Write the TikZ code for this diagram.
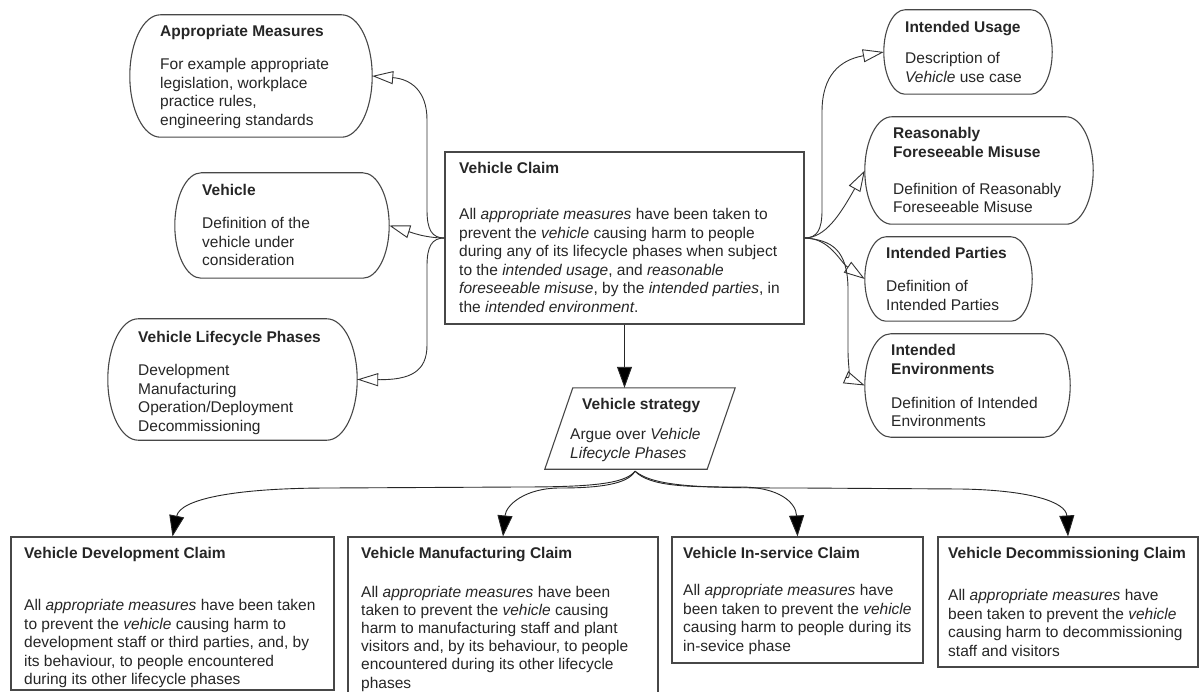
\documentclass[tikz,border=0pt]{standalone}
\usepackage{fontspec}
\setmainfont{Liberation Sans}
\usetikzlibrary{arrows.meta,calc}

% Context element outline: straight top/bottom, half-ellipse ends
\newcommand\ctxoutline[1]{%
  \path[gsnline] let \p1=(#1.north west), \p2=(#1.south east),
       \n1={(\y1-\y2)/2}, \n2={(\y1-\y2)/4} in
    (\x1+\n2,\y1) -- (\x2-\n2,\y1)
    arc[start angle=90, end angle=-90, x radius={\n2*1pt}, y radius={\n1*1pt}]
    -- (\x1+\n2,\y2)
    arc[start angle=270, end angle=90, x radius={\n2*1pt}, y radius={\n1*1pt}]
    -- cycle;}
% Text block: first baseline is the node's base
\newcommand\gsntext[1]{\parbox[t]{420pt}{\raggedright #1}}

\begin{document}
\begin{tikzpicture}[x=1pt, y=-1pt,
  gsnline/.style={draw=black!72, line width=1.1pt},
  claim/.style={gsnline, rectangle, inner sep=0pt},
  ctxbox/.style={rectangle, inner sep=0pt},
  stratbox/.style={rectangle, inner sep=0pt},
  txt/.style={anchor=base west, inner sep=0pt,
    font=\fontsize{15.5}{18.6}\selectfont, text=black!85},
  ctxarrow/.style={draw=black!80, line width=0.9pt,
    -{Triangle[open, length=21pt, width=13pt]}},
  solidarrow/.style={draw=black!85, line width=0.9pt,
    -{Triangle[length=21pt, width=15pt, fill=black]}}]

\path[fill=white, use as bounding box] (0,0) rectangle (1204,692);

% ---------- central claim ----------
\node[claim, minimum width=359pt, minimum height=172pt] (vc) at (624.5,238) {};
\node[txt] (vc-text) at (459,173.5) {\gsntext{\textbf{Vehicle Claim}\\[27.4pt]
All \emph{appropriate measures} have been taken to\\
prevent the \emph{vehicle} causing harm to people\\
during any of its lifecycle phases when subject\\
to the \emph{intended usage}, and \emph{reasonable}\\
\emph{foreseeable misuse}, by the \emph{intended parties}, in\\
the \emph{intended environment}.}};

% ---------- context elements, left ----------
\node[ctxbox, minimum width=242pt, minimum height=122pt] (am) at (251,76) {};
\ctxoutline{am}
\node[txt] (am-text) at (160,36.5) {\gsntext{\textbf{Appropriate Measures}\\[14.4pt]
For example appropriate\\ legislation, workplace\\ practice rules,\\ engineering standards}};

\node[ctxbox, minimum width=214pt, minimum height=105pt] (veh) at (282,225.5) {};
\ctxoutline{veh}
\node[txt] (veh-text) at (202,195.5) {\gsntext{\textbf{Vehicle}\\[14.4pt]
Definition of the\\ vehicle under\\ consideration}};

\node[ctxbox, minimum width=249pt, minimum height=121pt] (vlp) at (232.5,379.5) {};
\ctxoutline{vlp}
\node[txt] (vlp-text) at (138,342.5) {\gsntext{\textbf{Vehicle Lifecycle Phases}\\[14.4pt]
Development\\ Manufacturing\\ Operation/Deployment\\ Decommissioning}};

% ---------- context elements, right ----------
\node[ctxbox, minimum width=168pt, minimum height=84pt] (iu) at (968,52) {};
\ctxoutline{iu}
\node[txt] (iu-text) at (905,32.5) {\gsntext{\textbf{Intended Usage}\\[12.4pt]
Description of\\ \emph{Vehicle} use case}};

\node[ctxbox, minimum width=228pt, minimum height=107pt] (rfm) at (979,170.5) {};
\ctxoutline{rfm}
\node[txt] (rfm-text) at (893,138.5) {\gsntext{\textbf{Reasonably}\\ \textbf{Foreseeable Misuse}\\[18.4pt]
Definition of Reasonably\\ Foreseeable Misuse}};

\node[ctxbox, minimum width=167pt, minimum height=84pt] (ip) at (948.5,279) {};
\ctxoutline{ip}
\node[txt] (ip-text) at (886,258.5) {\gsntext{\textbf{Intended Parties}\\[14.4pt]
Definition of\\ Intended Parties}};

\node[ctxbox, minimum width=205pt, minimum height=103pt] (ie) at (967.5,385.5) {};
\ctxoutline{ie}
\node[txt] (ie-text) at (891,355.5) {\gsntext{\textbf{Intended}\\ \textbf{Environments}\\[15.4pt]
Definition of Intended\\ Environments}};

% ---------- strategy ----------
\node[stratbox, minimum width=190pt, minimum height=81pt] (vs) at (640,428.5) {};
\draw[gsnline] (vs.south west) -- ($(vs.north west)+(28,0)$) -- (vs.north east)
  -- ($(vs.south east)+(-28,0)$) -- cycle;
\node[txt] (vs-text) at (570,409.5) {\gsntext{\hspace*{12pt}\textbf{Vehicle strategy}\\[11.4pt]
Argue over \emph{Vehicle}\\ \emph{Lifecycle Phases}}};
\coordinate (fan) at ($(vs.south)+(-5,2)$);

% ---------- sub-claims ----------
\node[claim, minimum width=323pt, minimum height=153pt] (vdc) at (172.5,613.5) {};
\node[txt] (vdc-text) at (24,558.5) {\gsntext{\textbf{Vehicle Development Claim}\\[33.4pt]
All \emph{appropriate measures} have been taken\\
to prevent the \emph{vehicle} causing harm to\\
development staff or third parties, and, by\\
its behaviour, to people encountered\\
during its other lifecycle phases}};

\node[claim, minimum width=310pt, minimum height=168pt] (vmc) at (503,621) {};
\node[txt, font=\fontsize{15.5}{18.2}\selectfont] (vmc-text) at (361,558.5) {\gsntext{\textbf{Vehicle Manufacturing Claim}\\[20.4pt]
All \emph{appropriate measures} have been\\
taken to prevent the \emph{vehicle} causing\\
harm to manufacturing staff and plant\\
visitors and, by its behaviour, to people\\
encountered during its other lifecycle\\
phases}};

\node[claim, minimum width=251pt, minimum height=126pt] (vic) at (797.5,600) {};
\node[txt] (vic-text) at (683,558.5) {\gsntext{\textbf{Vehicle In-service Claim}\\[18.4pt]
All \emph{appropriate measures} have\\
been taken to prevent the \emph{vehicle}\\
causing harm to people during its\\
in-sevice phase}};

\node[claim, minimum width=260pt, minimum height=130pt] (vdec) at (1068,602) {};
\node[txt] (vdec-text) at (948,558.5) {\gsntext{\textbf{Vehicle Decommissioning Claim}\\[23.4pt]
All \emph{appropriate measures} have\\
been taken to prevent the \emph{vehicle}\\
causing harm to decommissioning\\
staff and visitors}};

% ---------- in-context-of links ----------
\draw[ctxarrow] (vc.west) .. controls (432,238) and (427,230) .. (427,210)
  -- (427,120) .. controls (427,90) and (410,79) .. (am.east);
\draw[ctxarrow] (vc.west) .. controls (425,238) and (410,232) .. (veh.east);
\draw[ctxarrow] (vc.west) .. controls (432,238) and (427,246) .. (427,266)
  -- (427,345) .. controls (427,372) and (410,380) .. (vlp.east);

\draw[ctxarrow] (vc.east) .. controls (817,238) and (822,230) .. (822,210)
  -- (822,112) .. controls (822,75) and (840,60) .. (iu.west);
\draw[ctxarrow] (vc.east) .. controls (825,238) and (840,215) .. (rfm.west);
\draw[ctxarrow] (vc.east) .. controls (830,238) and (840,262) .. (ip.west);
\draw[ctxarrow] (vc.east) .. controls (832,240) and (848,250) .. (848,290)
  -- (848,350) .. controls (848,370) and (852,380) .. (ie.west);

% ---------- supported-by links ----------
\draw[solidarrow] (vc.south) -- (vc.south |- vs.north);

\draw[solidarrow] (fan) .. controls (625,484) and (590,487) .. (520,487)
  -- (330,488) .. controls (230,488) and (180,500) .. (vdc.north);
\draw[solidarrow] (fan) .. controls (628,484) and (600,488) .. (560,488)
  .. controls (525,488) and (506,505) .. (vmc.north);
\draw[solidarrow] (fan) .. controls (650,487) and (690,487) .. (740,487)
  .. controls (780,487) and (796,503) .. (vic.north);
\draw[solidarrow] (fan) .. controls (655,487) and (700,488) .. (800,488)
  -- (960,489) .. controls (1030,490) and (1066,502) .. (vdec.north);

\end{tikzpicture}
\end{document}
